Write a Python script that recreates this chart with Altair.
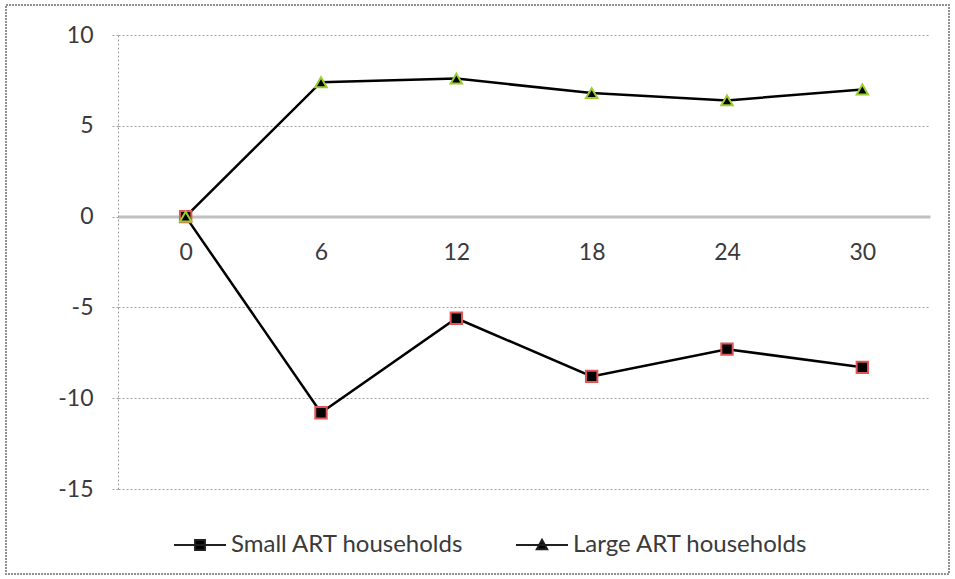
import altair as alt
import pandas as pd

# Months since start (category axis) and mean change per household group
months = ["0", "6", "12", "18", "24", "30"]
small_art = [0, -10.8, -5.6, -8.8, -7.3, -8.3]
large_art = [0, 7.4, 7.6, 6.8, 6.4, 7.0]
series_names = ["Small ART households", "Large ART households"]
y_ticks = [-15, -10, -5, 0, 5, 10]

rows = []
for m, s, l in zip(months, small_art, large_art):
    rows.append({"month": m, "series": series_names[0], "value": s})
    rows.append({"month": m, "series": series_names[1], "value": l})
df = pd.DataFrame(rows)

W, H = 812, 454
FONT = "Lato"
TXT = "#3a3a3a"

x_enc = alt.X(
    "month:O",
    sort=months,
    scale=alt.Scale(type="point", padding=0.5, domain=months),
    axis=alt.Axis(
        title=None, labelAngle=0, offset=-272.4, domain=True,
        domainColor="#c0c0c0", domainWidth=3, ticks=False,
        labelPadding=25, labelFontSize=23, labelColor=TXT, labelFont=FONT,
        grid=False,
    ),
)
y_enc = alt.Y(
    "value:Q",
    scale=alt.Scale(domain=[-15, 10], nice=False, zero=False),
    axis=alt.Axis(
        title=None, values=y_ticks, grid=True, gridColor="#a0a0a0",
        gridDash=[2, 2], gridWidth=1, domainColor="#a0a0a0", domainDash=[2, 2],
        domainWidth=1, tickColor="#a0a0a0", tickDash=[2, 2], tickSize=8,
        labelPadding=17, labelFontSize=23, labelColor=TXT, labelFont=FONT,
        labelExpr="'' + datum.value",
    ),
)

base = alt.Chart(df)

lines = base.mark_line(color="black", strokeWidth=2.5).encode(
    x=x_enc, y=y_enc, detail="series:N"
)

small_pts = base.transform_filter(alt.datum.series == series_names[0]).mark_point(
    shape="square", filled=False, fill="black", stroke="#e05555", strokeWidth=2,
    size=130, opacity=1,
).encode(x=x_enc, y=y_enc)

large_pts = base.transform_filter(alt.datum.series == series_names[1]).mark_point(
    shape="triangle-up", filled=False, fill="black", stroke="#9acd32", strokeWidth=2,
    size=130, opacity=1,
).encode(x=x_enc, y=y_enc)

# legend-only layer (no rows pass the filter): each symbol is a line segment
# with the series marker on it
sq_path = "M-1,0H1M-0.19,-0.19H0.19V0.19H-0.19Z"
tri_path = "M-1,0H1M0,-0.2L0.2,0.16H-0.2Z"
legend_layer = base.transform_filter("false").mark_point(
    size=2704, filled=False, fill="black", stroke="#202020", strokeWidth=2, opacity=1
).encode(
    x=x_enc, y=y_enc,
    shape=alt.Shape(
        "series:N",
        scale=alt.Scale(domain=series_names, range=[sq_path, tri_path]),
        legend=alt.Legend(
            title=None, orient="none", legendX=55, legendY=483,
            direction="horizontal", columnPadding=48, labelOffset=4,
            labelFontSize=24, labelColor=TXT, labelFont=FONT, labelLimit=400,
            symbolSize=2704, symbolStrokeWidth=2, padding=0,
        ),
    ),
)

# dotted frame around the whole figure
frame = alt.Chart(pd.DataFrame({"k": [0]})).mark_rect(
    fill=None, stroke="#909090", strokeDash=[2, 1], strokeWidth=2, clip=False
).encode(
    x=alt.value(-112), x2=alt.value(W + 19), y=alt.value(-30), y2=alt.value(H + 85)
)

chart = alt.layer(legend_layer, lines, small_pts, large_pts, frame).properties(
    width=W, height=H,
    autosize=alt.AutoSizeParams(type="none"),
    padding={"left": 118, "top": 35, "right": 25, "bottom": 90},
    background="white",
).configure_view(stroke=None)

chart.save("out.html", embed_options={"renderer": "svg", "actions": False})
